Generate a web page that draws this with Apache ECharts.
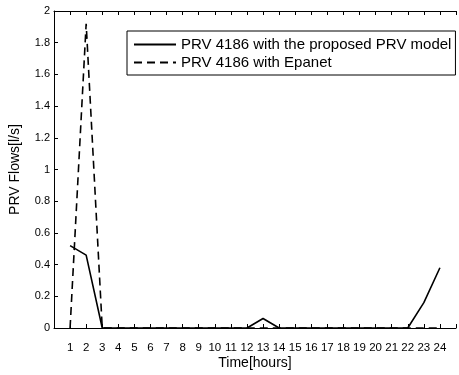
<!DOCTYPE html>
<html>
<head>
<meta charset="utf-8">
<script src="https://cdn.jsdelivr.net/npm/echarts@6/dist/echarts.min.js"></script>
<style>html,body{margin:0;padding:0;background:#fff}#c{width:459px;height:375px}</style>
</head>
<body>
<div id="c"></div>
<script>
var hours = [1,2,3,4,5,6,7,8,9,10,11,12,13,14,15,16,17,18,19,20,21,22,23,24];
var proposedFlow = [0.52,0.46,0,0,0,0,0,0,0,0,0,0,0.06,0,0,0,0,0,0,0,0,0,0.16,0.38];
var epanetFlow = [0,1.92,0,0,0,0,0,0,0,0,0,0,0,0,0,0,0,0,0,0,0,0,0,0];
var seriesNames = ['PRV 4186 with the proposed PRV model','PRV 4186 with Epanet'];
var xTitle = 'Time[hours]';
var yTitle = 'PRV Flows[l/s]';

function pairs(vals){ return hours.map(function(h,i){ return [h, vals[i]]; }); }
var font = 'Liberation Sans, Arial, sans-serif';
var chart = echarts.init(document.getElementById('c'), null, {renderer:'canvas'});
chart.setOption({
  backgroundColor:'#fff',
  animation:false,
  grid:{left:52, right:-4, top:11, bottom:40, containLabel:false},
  legend:{
    orient:'vertical', left:127, top:31,
    borderColor:'#000', borderWidth:1, backgroundColor:'#fff', borderRadius:0,
    padding:[6,4,5,6], itemGap:3, itemWidth:42, itemHeight:14,
    itemStyle:{opacity:0},
    textStyle:{fontFamily:font, fontSize:15, color:'#000'},
    data:seriesNames
  },
  xAxis:[{
    type:'value', min:0, max:25, interval:1,
    name:xTitle, nameLocation:'middle', nameGap:28, nameMoveOverlap:false,
    nameTextStyle:{fontFamily:font, fontSize:14, color:'#000'},
    axisLine:{show:true, lineStyle:{color:'#000', width:1}},
    axisTick:{show:true, inside:true, length:4, lineStyle:{color:'#000'}},
    axisLabel:{fontFamily:font, fontSize:11.5, color:'#000', margin:14,
      formatter:function(v){ return (v>=1 && v<=24) ? String(v) : ''; }},
    splitLine:{show:false}
  },{
    type:'value', position:'top', min:0, max:25, interval:1,
    axisLine:{show:true, lineStyle:{color:'#000', width:1}},
    axisTick:{show:true, inside:true, length:4, lineStyle:{color:'#000'}},
    axisLabel:{show:false}, splitLine:{show:false}
  }],
  yAxis:{
    type:'value', min:0, max:2, interval:0.2,
    name:yTitle, nameLocation:'middle', nameGap:32, nameRotate:90,
    nameTextStyle:{fontFamily:font, fontSize:14, color:'#000'},
    axisLine:{show:true, lineStyle:{color:'#000', width:1}},
    axisTick:{show:true, inside:true, length:4, lineStyle:{color:'#000'}},
    axisLabel:{fontFamily:font, fontSize:11, color:'#000', margin:4},
    splitLine:{show:false}
  },
  series:[{
    name:seriesNames[0], type:'line', data:pairs(proposedFlow), symbol:'none',
    lineStyle:{color:'#000', width:1.6, type:'solid'}, itemStyle:{color:'#000'}
  },{
    name:seriesNames[1], type:'line', data:pairs(epanetFlow), symbol:'none',
    lineStyle:{color:'#000', width:1.6, type:[8,5]}, itemStyle:{color:'#000'}
  }]
});
</script>
</body>
</html>
